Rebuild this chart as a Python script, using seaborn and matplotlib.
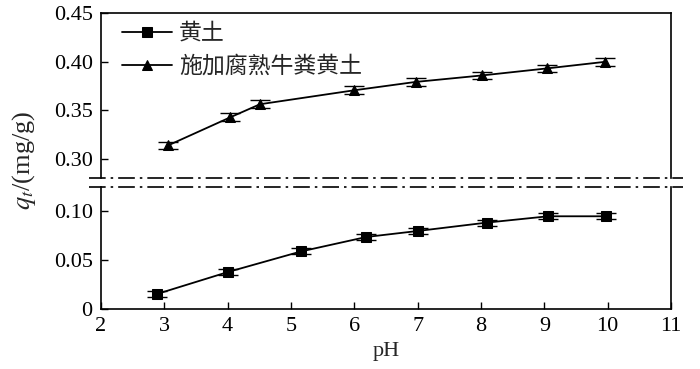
import matplotlib
matplotlib.use("Agg")
import matplotlib.pyplot as plt
import seaborn as sns
import pandas as pd
import numpy as np

sns.set_theme(style="ticks")
plt.rcParams['font.family'] = ['Liberation Serif', 'Noto Sans CJK SC']
plt.rcParams['mathtext.fontset'] = 'stix'

loess_ph = [2.88, 4.01, 5.16, 6.19, 7.01, 8.09, 9.06, 9.98]
loess_q = [0.0153, 0.038, 0.059, 0.0738, 0.080, 0.0885, 0.095, 0.095]
loess_err = [0.003, 0.003, 0.003, 0.003, 0.003, 0.003, 0.003, 0.003]
manure_ph = [3.06, 4.04, 4.51, 6.0, 6.97, 8.02, 9.04, 9.96]
manure_q = [0.3136, 0.3425, 0.356, 0.3704, 0.379, 0.3857, 0.3929, 0.3997]
manure_err = [0.004, 0.004, 0.004, 0.004, 0.004, 0.004, 0.004, 0.004]
series_names = ['黄土', '施加腐熟牛粪黄土']
x_ticks = [2, 3, 4, 5, 6, 7, 8, 9, 10, 11]
upper_ticks = [0.30, 0.35, 0.40, 0.45]
lower_ticks = [0, 0.05, 0.10]

df = pd.DataFrame({
    'pH': loess_ph + manure_ph,
    'q': loess_q + manure_q,
    'err': loess_err + manure_err,
    'series': [series_names[0]] * len(loess_ph) + [series_names[1]] * len(manure_ph),
})

fig = plt.figure(figsize=(7.0, 3.69), dpi=100)
L, R = 101 / 700, 671 / 700
ax_top = fig.add_axes([L, 1 - 178 / 369, R - L, (178 - 13) / 369])
ax_bot = fig.add_axes([L, 1 - 309 / 369, R - L, (309 - 187) / 369])

markers = {series_names[0]: 's', series_names[1]: '^'}
for ax in (ax_top, ax_bot):
    sns.lineplot(data=df, x='pH', y='q', hue='series', style='series',
                 markers=markers, dashes=False, palette=['black', 'black'],
                 markersize=7.5, linewidth=1.3, ax=ax, legend=(ax is ax_top),
                 markeredgecolor='black')
    for name in series_names:
        sub = df[df['series'] == name]
        ax.errorbar(sub['pH'], sub['q'], yerr=sub['err'], fmt='none',
                    ecolor='black', elinewidth=1.0, capsize=7, capthick=1.0)
    ax.set_xlim(2, 11)
    ax.set_xlabel('')
    ax.set_ylabel('')
    ax.tick_params(direction='in', length=5, width=1, labelsize=16, colors='black')
    ax.tick_params(axis='y', pad=6)
    ax.tick_params(axis='x', pad=6)
    for s in ax.spines.values():
        s.set_linewidth(1.2)
        s.set_color('black')

ax_top.set_ylim(0.28, 0.45)
ax_top.set_yticks(upper_ticks)
ax_top.set_yticklabels([f'{v:.2f}' for v in upper_ticks])
ax_top.set_xticks(x_ticks)
ax_top.tick_params(axis='x', bottom=False, labelbottom=False)
ax_top.spines['bottom'].set_visible(False)

ax_bot.set_ylim(0, 0.125)
ax_bot.set_yticks(lower_ticks)
ax_bot.set_yticklabels(['0', '0.05', '0.10'])
ax_bot.set_xticks(x_ticks)
ax_bot.set_xticklabels([str(v) for v in x_ticks])
ax_bot.spines['top'].set_visible(False)
ax_bot.set_xlabel('pH', fontsize=16, labelpad=4)

# break lines
for yy in (178, 187):
    fig.add_artist(plt.Line2D([L - 12 / 700, R + 12 / 700], [1 - yy / 369, 1 - yy / 369],
                              color='black', linewidth=1.2, linestyle=(0, (10, 3, 1.5, 3))))

leg = ax_top.legend(loc='upper left', bbox_to_anchor=(0.02, 0.99), frameon=False,
                    fontsize=16.5, handlelength=2.2,
                    borderaxespad=0.2, handletextpad=0.3, labelspacing=0.5,
                    borderpad=0.2)
for h in leg.get_lines():
    h.set_markersize(6.5)

fig.text(0.034, 1 - 160 / 369, r'$q_t$/(mg/g)', rotation=90, fontsize=19,
         ha='center', va='center')

fig.savefig('out.png', dpi=100, facecolor='white')
